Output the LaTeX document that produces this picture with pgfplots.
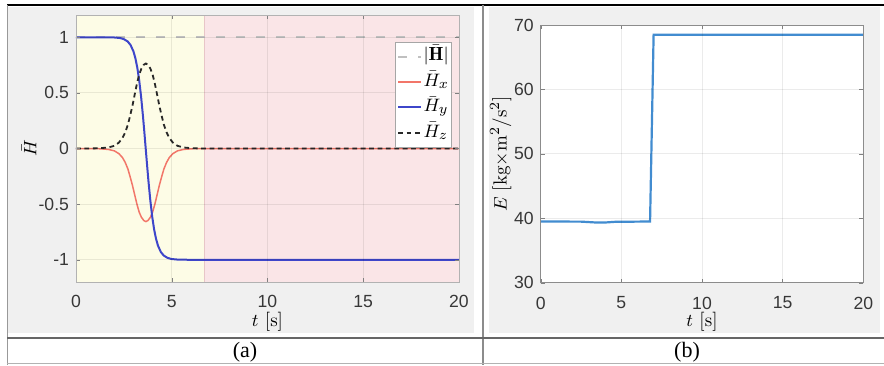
\documentclass[border=0pt]{standalone}
\usepackage{pgfplots}
\pgfplotsset{compat=1.18}
\usepackage{fontspec}
\newfontfamily\ticksans{Liberation Sans}
\newfontfamily\capserif{Liberation Serif}

\definecolor{figgray}{RGB}{240,240,240}
\definecolor{bgyellow}{RGB}{253,252,230}
\definecolor{bgpink}{RGB}{250,229,231}
\definecolor{patchedge}{RGB}{232,198,200}
\definecolor{hmag}{RGB}{192,192,192}
\definecolor{hx}{RGB}{242,118,105}
\definecolor{hy}{RGB}{62,70,202}
\definecolor{hz}{RGB}{40,40,40}
\definecolor{eline}{RGB}{66,140,208}
\definecolor{ticktext}{RGB}{55,55,55}

% Field components (x and z share the time base)
\pgfplotstableread{
t      hx      hz
0      0       0
0.55   0       0
1.20  -0.002   0.002
1.68  -0.008   0.009
2.00  -0.021   0.024
2.24  -0.046   0.053
2.43  -0.082   0.096
2.57  -0.125   0.145
2.71  -0.184   0.214
2.82  -0.250   0.290
2.945 -0.329   0.382
3.07  -0.420   0.489
3.18  -0.499   0.581
3.30  -0.572   0.665
3.415 -0.618   0.718
3.54  -0.647   0.753
3.65  -0.657   0.764
3.76  -0.647   0.753
3.885 -0.618   0.718
4.00  -0.572   0.665
4.12  -0.499   0.581
4.23  -0.420   0.489
4.355 -0.329   0.382
4.48  -0.250   0.290
4.59  -0.184   0.214
4.73  -0.125   0.145
4.87  -0.082   0.096
5.06  -0.046   0.053
5.30  -0.021   0.024
5.62  -0.008   0.009
6.10  -0.002   0.002
6.75   0       0
20     0       0
}\hxz

\pgfplotstableread{
t     hy
0     1.000
2.00  0.998
2.30  0.993
2.50  0.983
2.70  0.962
2.85  0.930
3.00  0.873
3.10  0.812
3.20  0.728
3.30  0.613
3.40  0.465
3.50  0.286
3.57  0.146
3.64  0.000
3.71 -0.146
3.78 -0.286
3.88 -0.465
3.98 -0.613
4.08 -0.728
4.18 -0.812
4.28 -0.873
4.43 -0.930
4.58 -0.962
4.78 -0.983
4.98 -0.993
5.28 -0.998
5.80 -1.000
20   -1.000
}\hyt

\pgfplotstableread{
t     e
0     39.50
2.50  39.48
3.40  39.35
3.90  39.33
4.60  39.45
6.78  39.50
7.00  68.50
20    68.50
}\energy

\pgfplotsset{
  panel/.style={
    scale only axis, axis on top,
    tick align=inside, major tick length=2pt,
    major tick style={black!50},
    grid=major, grid style={black, opacity=0.08, line width=0.4pt},
    tick label style={font=\fontsize{8.8}{10}\ticksans, text=ticktext},
    /pgf/number format/assume math mode=true,
    label style={font=\fontsize{9.5}{11}\selectfont},
    xmin=0, xmax=20, xtick={0,5,10,15,20},
  }
}

\begin{document}
\begin{tikzpicture}
\useasboundingbox (0pt,0pt) rectangle (442pt,-182.5pt);
\fill[white] (0pt,0pt) rectangle (442pt,-182.5pt);
\fill[figgray] (4pt,-3.5pt) rectangle (237pt,-166.5pt);
\fill[figgray] (244.5pt,-3.5pt) rectangle (440pt,-166.5pt);

% (a) normalised field components
\begin{axis}[panel,
  at={(38pt,-141pt)}, anchor=south west,
  width=191.5pt, height=133.5pt,
  ymin=-1.2, ymax=1.2,
  ytick={-1,-0.5,0,0.5,1}, yticklabels={-1,-0.5,0,0.5,1},
  axis line style={black!30},
  xticklabel style={yshift=-3pt},
  xlabel={$t$ [s]}, ylabel={$\bar{H}$},
  xlabel style={at={(axis description cs:0.5,-0.15)}, anchor=center},
  ylabel style={at={(axis description cs:-0.123,0.5)}, anchor=center},
  legend style={at={(axis description cs:0.982,0.899)}, anchor=north east,
    draw=black!35, fill=white, font=\fontsize{9.5}{11}\selectfont,
    inner sep=0.8pt, row sep=0pt,
    nodes={inner sep=0.6pt, text height=7.9pt, text depth=3.6pt}},
  legend cell align=left,
  legend image code/.code={\draw[#1] (0pt,0pt) -- (11.5pt,0pt);},
]
\addplot[fill=bgyellow, draw=patchedge, line width=0.4pt, forget plot]
  coordinates {(0,-1.2) (6.7,-1.2) (6.7,1.2) (0,1.2)} -- cycle;
\addplot[fill=bgpink, draw=patchedge, line width=0.4pt, forget plot]
  coordinates {(6.7,-1.2) (20,-1.2) (20,1.2) (6.7,1.2)} -- cycle;

\addplot[hmag, line width=1.1pt, dash pattern=on 4.5pt off 5.5pt]
  coordinates {(0,1) (20,1)};
\addlegendentry{$|\bar{\mathbf{H}}|$}
\addplot[hx, line width=0.75pt] table[x=t, y=hx] {\hxz};
\addlegendentry{$\bar{H}_x$}
\addplot[hy, line width=1pt] table[x=t, y=hy] {\hyt};
\addlegendentry{$\bar{H}_y$}
\addplot[hz, line width=0.9pt, dash pattern=on 2.4pt off 1.8pt] table[x=t, y=hz] {\hxz};
\addlegendentry{$\bar{H}_z$}
\end{axis}

% (b) energy
\begin{axis}[panel,
  at={(270.35pt,-141.35pt)}, anchor=south west,
  width=161.3pt, height=128.85pt,
  ymin=30, ymax=70, ytick={30,40,50,60,70},
  axis line style={black!45},
  axis background/.style={fill=white},
  xticklabel style={yshift=-3.5pt},
  xlabel={$t$ [s]}, ylabel={$E$ [kg$\times$m$^2$/s$^2$]},
  xlabel style={at={(axis description cs:0.5,-0.153)}, anchor=center},
  ylabel style={at={(axis description cs:-0.124,0.5)}, anchor=center},
]
\addplot[eline, line width=1.1pt] table[x=t, y=e] {\energy};
\end{axis}

% table frame and captions
\draw[black, line width=0.8pt] (3.5pt,-2.5pt) -- (442pt,-2.5pt);
\draw[black!40, line width=0.5pt] (3.5pt,-2.5pt) -- (3.5pt,-182.5pt);
\draw[black!45, line width=0.6pt] (241.5pt,-2.5pt) -- (241.5pt,-182.5pt);
\draw[black!60, line width=1pt] (3.5pt,-169pt) -- (442pt,-169pt);
\draw[black!30, line width=0.5pt] (3.5pt,-181.8pt) -- (442pt,-181.8pt);
\node[font=\fontsize{11}{13}\capserif] at (122.5pt,-176pt) {(a)};
\node[font=\fontsize{11}{13}\capserif] at (343.5pt,-176pt) {(b)};
\end{tikzpicture}
\end{document}
